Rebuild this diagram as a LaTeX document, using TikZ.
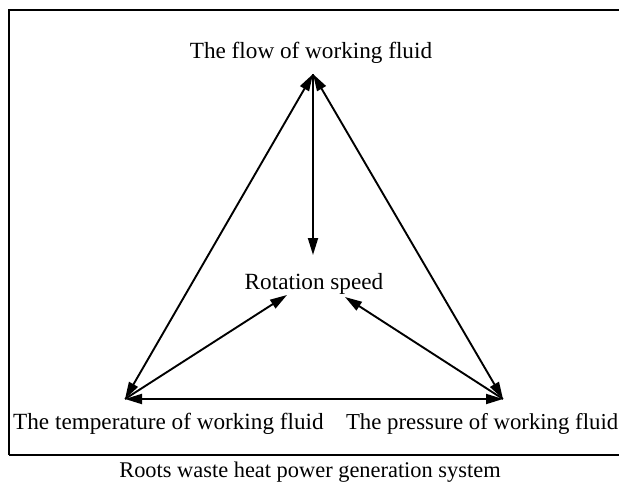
\documentclass[tikz,border=0pt]{standalone}
\usepackage{fontspec}
\setmainfont{Liberation Serif}
\usetikzlibrary{arrows.meta}
\begin{document}
\begin{tikzpicture}[x=1pt,y=-1pt,
  lbl/.style={inner sep=0pt, font=\fontsize{23.2}{27}\selectfont},
  conn/.style={line width=1.9pt, -{Triangle[length=17pt,width=10pt]}},
  bconn/.style={line width=1.9pt, {Triangle[length=17pt,width=10pt]}-{Triangle[length=17pt,width=10pt]}}]
\useasboundingbox (0,0) rectangle (619,487);
\fill[white] (0,0) rectangle (619,487);
\draw[line width=2.4pt] (9,455) -- (9,10) -- (640,10);
\draw[line width=2.4pt] (9,455) -- (640,455);
% vertices
\coordinate (A) at (313,74);
\coordinate (B) at (125,399);
\coordinate (C) at (503,399);
\coordinate (V) at (313,255);
\coordinate (RL) at (287,295);
\coordinate (RR) at (345,297);
% labels
\node[lbl] (flow) at (311,53) {The flow of working fluid};
\node[lbl] (rot) at (314,284) {Rotation speed};
\node[lbl, anchor=west] (temp) at (13,424) {The temperature of working fluid};
\node[lbl, anchor=east, font=\fontsize{22.8}{27}\selectfont] (pres) at (618.5,424) {The pressure of working fluid};
\node[lbl, font=\fontsize{22.4}{26}\selectfont] (cap) at (310,472) {Roots waste heat power generation system};
% connectors
\draw[bconn] (A) -- (B);
\draw[bconn] (A) -- (C);
\draw[bconn] (B) -- (C);
\draw[conn] (A) -- (V);
\draw[conn] (B) -- (RL);
\draw[conn] (C) -- (RR);
\end{tikzpicture}
\end{document}
